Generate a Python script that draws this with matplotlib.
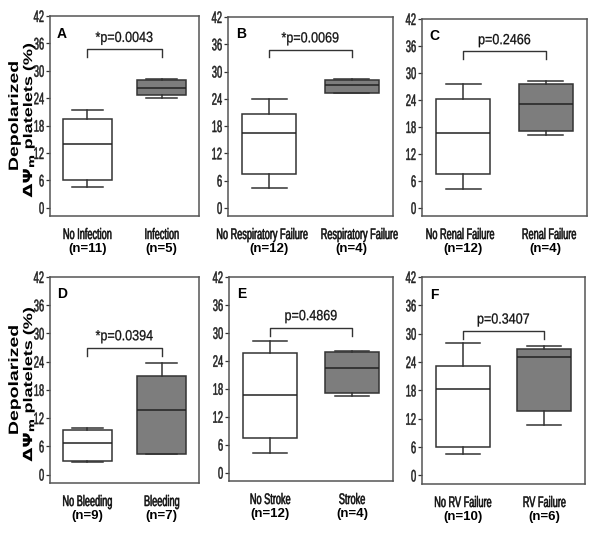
import matplotlib
matplotlib.use('Agg')
import matplotlib.pyplot as plt
from matplotlib.patheffects import AbstractPathEffect
from matplotlib.transforms import Affine2D

# box statistics: (whisker low, Q1, median, Q3, whisker high)
panel_letters = ['A', 'B', 'C', 'D', 'E', 'F']
group_names = [
    ('No Infection', 'Infection'),
    ('No Respiratory Failure', 'Respiratory Failure'),
    ('No Renal Failure', 'Renal Failure'),
    ('No Bleeding', 'Bleeding'),
    ('No Stroke', 'Stroke'),
    ('No RV Failure', 'RV Failure'),
]
group_n = [(11, 5), (12, 4), (12, 4), (9, 7), (12, 4), (10, 6)]
stats_without = [
    (4.5, 6.1, 13.9, 19.5, 21.5),
    (4.4, 7.5, 16.4, 20.6, 23.9),
    (4.3, 7.6, 16.6, 24.3, 27.6),
    (2.6, 2.8, 6.7, 9.4, 9.9),
    (4.3, 7.4, 16.6, 25.6, 28.2),
    (4.5, 6.1, 18.4, 23.1, 28.1),
]
stats_with = [
    (24.1, 24.6, 26.3, 27.9, 28.3),
    (25.2, 25.3, 27.0, 28.1, 28.4),
    (16.3, 17.2, 23.0, 27.6, 28.2),
    (4.3, 4.4, 13.7, 20.9, 23.7),
    (16.5, 17.2, 22.5, 25.8, 26.2),
    (10.7, 13.6, 25.0, 26.8, 27.5),
]
p_labels = ['*p=0.0043', '*p=0.0069', 'p=0.2466', '*p=0.0394', 'p=0.4869', 'p=0.3407']
bracket_y = [34.7, 34.8, 34.8, 26.9, 31.1, 30.5]
y_ticks = [0, 6, 12, 18, 24, 30, 36, 42]


class Squeeze(AbstractPathEffect):
    """Draw text narrower (sx) or flatter (sy), like the condensed type of the original,
    optionally with a thin outline to make it a bit heavier."""

    def __init__(self, sx=1.0, sy=1.0, anchor='center', lw=0.0):
        super().__init__()
        self.sx, self.sy, self.anchor, self.lw = sx, sy, anchor, lw

    def draw_path(self, renderer, gc, tpath, affine, rgbFace=None):
        if len(tpath.vertices) == 0:
            return
        ext = tpath.get_extents()
        cx = ext.x1 if self.anchor == 'right' else (ext.x0 + ext.x1) / 2
        cy = (ext.y0 + ext.y1) / 2
        t = Affine2D().translate(-cx, -cy).scale(self.sx, self.sy).translate(cx, cy)
        gc2 = renderer.new_gc()
        gc2.copy_properties(gc)
        if self.lw > 0 and rgbFace is not None:
            gc2.set_linewidth(self.lw)
            gc2.set_foreground(rgbFace)
        renderer.draw_path(gc2, tpath, t + affine, rgbFace)
        gc2.restore()


plt.rcParams['font.family'] = ['Liberation Sans', 'DejaVu Sans']

fig = plt.figure(figsize=(6, 5.37), dpi=100)
W, H = 600, 537
# pixel boxes (left, top, right, bottom)
boxes = [
    (50, 16, 199, 216), (228, 17, 393, 216), (422, 19, 587, 216),
    (50, 277, 199, 483), (229, 277, 393, 481), (422, 277, 585, 484),
]
# long labels in panel B sit a little outward, as in the original
name_shift = [0, 0.09, 0.04, 0, 0, 0]

edge = '#333333'
for i, (l, t, r, b) in enumerate(boxes):
    hpx = b - t
    ax = fig.add_axes([l / W, 1 - b / H, (r - l) / W, hpx / H])
    bxp_stats = []
    for s in (stats_without[i], stats_with[i]):
        bxp_stats.append({'whislo': s[0], 'q1': s[1], 'med': s[2], 'q3': s[3],
                          'whishi': s[4], 'fliers': []})
    parts = ax.bxp(bxp_stats, positions=[1, 2], widths=0.66, capwidths=0.42,
                   patch_artist=True, showfliers=False,
                   boxprops=dict(edgecolor=edge, linewidth=1.1),
                   medianprops=dict(color='#222222', linewidth=1.1),
                   whiskerprops=dict(color=edge, linewidth=1.1),
                   capprops=dict(color=edge, linewidth=1.1))
    parts['boxes'][0].set_facecolor('white')
    parts['boxes'][1].set_facecolor('#7d7d7d')

    ax.set_xlim(0.5, 2.5)
    ax.set_ylim(-1.8, 42)
    ax.set_yticks(y_ticks)
    ax.set_yticklabels([str(v) for v in y_ticks], fontsize=12, color='#222222')
    for lab in ax.get_yticklabels():
        lab.set_path_effects([Squeeze(sx=0.56, anchor='right', lw=0.35)])
    ax.set_xticks([])
    ax.tick_params(axis='y', length=3, width=0.9, color=edge, pad=1)
    for sp in ax.spines.values():
        sp.set_color('#555555')
        sp.set_linewidth(1.1)

    # significance bracket
    by = bracket_y[i]
    ax.plot([1, 1, 2, 2], [by - 1.7, by, by, by - 1.7], color=edge, lw=1.0)
    ax.text(1.5, by + 2.5, p_labels[i], ha='center', va='center', fontsize=10.5,
            color='#111111', path_effects=[Squeeze(sx=0.86, lw=0.2)])
    ax.text(0.047, 1 - 10.5 / hpx, panel_letters[i], transform=ax.transAxes,
            ha='left', va='top', fontsize=10, fontweight='bold')

    tr = ax.get_xaxis_transform()
    for k, (name, n) in enumerate(zip(group_names[i], group_n[i])):
        dx = name_shift[i] * (1 if k == 1 else -1)
        ax.text(k + 1 + dx, -19 / hpx, name, transform=tr, ha='center', va='center',
                fontsize=11, color='#111111', path_effects=[Squeeze(sx=0.6, lw=0.4)])
        ax.text(k + 1, -33 / hpx, f'(n={n})', transform=tr, ha='center', va='center',
                fontsize=9.5, fontweight='bold')

    if i % 3 == 0:
        ax.text(-35 / 149, 0.5, 'Depolarized', transform=ax.transAxes, rotation=90,
                ha='center', va='center', fontsize=14, fontweight='bold',
                path_effects=[Squeeze(sy=0.7)])
        ax.text(-21 / 149, 0.48, r'$\mathbf{\Delta\Psi_m}$ platelets (%)',
                transform=ax.transAxes, rotation=90, ha='center', va='center',
                fontsize=13, fontweight='bold', path_effects=[Squeeze(sy=0.7)])

fig.savefig('out.png', dpi=100)
